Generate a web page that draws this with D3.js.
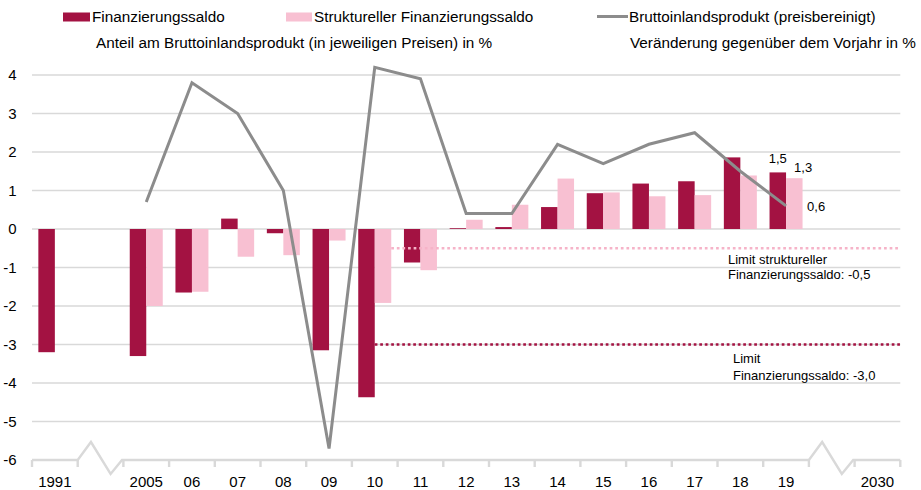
<!DOCTYPE html>
<html><head><meta charset="utf-8">
<script src="https://cdn.jsdelivr.net/npm/d3@7"></script>
<style>
html,body{margin:0;padding:0;background:#fff;}
svg{display:block;font-family:"Liberation Sans",Arial,sans-serif;}
</style></head>
<body><svg id="chart" width="921" height="490"></svg>
<script>
// ---- data ----
const categories = ["1991","b1","2005","2006","2007","2008","2009","2010","2011","2012","2013","2014","2015","2016","2017","2018","2019","b2","2030"];
const tickLabels = ["1991","","2005","06","07","08","09","10","11","12","13","14","15","16","17","18","19","","2030"];
const finanzierungssaldo = [-3.2,null,-3.3,-1.65,0.27,-0.11,-3.15,-4.37,-0.87,0.02,0.05,0.57,0.93,1.18,1.24,1.86,1.47,null,null];
const strukturellerSaldo = [null,null,-2.0,-1.63,-0.72,-0.68,-0.3,-1.92,-1.07,0.24,0.63,1.31,0.95,0.85,0.88,1.39,1.32,null,null];
const bip = [null,null,0.7,3.8,3.0,1.0,-5.7,4.2,3.9,0.4,0.4,2.2,1.7,2.2,2.5,1.5,0.6,null,null];
const yTicks = [-6,-5,-4,-3,-2,-1,0,1,2,3,4];
const breakSlots = ["b1","b2"];
const limitStrukturell = -0.5;
const limitSaldo = -3.0;
const legendLabels = ["Finanzierungssaldo","Struktureller Finanzierungssaldo","Bruttoinlandsprodukt (preisbereinigt)"];
const subtitleLeft = "Anteil am Bruttoinlandsprodukt (in jeweiligen Preisen) in %";
const subtitleRight = "Veränderung gegenüber dem Vorjahr in %";

// ---- style ----
const cDark = "#a31242", cPink = "#f8c0d2", cGrey = "#8c8c8c", cGrid = "#d9d9d9", cDotPink = "#f6b3c8";
const svg = d3.select("#chart");
const fmt = v => d3.format(".1f")(v).replace(".", ",").replace("\u2212", "-");

const x = d3.scaleBand().domain(categories).range([32, 900.3]).padding(0);
const xi = d3.scaleBand().domain(["saldo","struct"]).range([0, x.bandwidth()]).paddingInner(0).paddingOuter(0.385);
const y = d3.scaleLinear().domain([-6, 4]).range([460, 75]);
const sw = x.bandwidth();

// gridlines
svg.append("g").selectAll("line").data(yTicks.filter(t => t > -6)).join("line")
  .attr("x1", 32).attr("x2", 900.3).attr("y1", d => y(d)).attr("y2", d => y(d))
  .attr("stroke", cGrid).attr("stroke-width", 1.3);

// y labels
svg.append("g").selectAll("text").data(yTicks).join("text")
  .attr("x", 16.5).attr("y", d => y(d)).attr("dy", "0.36em")
  .attr("text-anchor", "end").attr("font-size", 15).attr("fill", "#000")
  .text(d => d);

// bars
const rows = categories.map((c, i) => ({c, s: finanzierungssaldo[i], p: strukturellerSaldo[i], g: bip[i], lab: tickLabels[i]}));
const bars = svg.append("g");
bars.selectAll("rect.s").data(rows.filter(d => d.s != null)).join("rect").attr("class","s")
  .attr("x", d => x(d.c) + xi("saldo")).attr("width", xi.bandwidth())
  .attr("y", d => y(Math.max(0, d.s))).attr("height", d => Math.abs(y(d.s) - y(0)))
  .attr("fill", cDark);
bars.selectAll("rect.p").data(rows.filter(d => d.p != null)).join("rect").attr("class","p")
  .attr("x", d => x(d.c) + xi("struct")).attr("width", xi.bandwidth())
  .attr("y", d => y(Math.max(0, d.p))).attr("height", d => Math.abs(y(d.p) - y(0)))
  .attr("fill", cPink);

// limit lines
svg.append("line").attr("x1", x("2010") + xi("struct") + xi.bandwidth()).attr("x2", 900.3)
  .attr("y1", y(limitStrukturell)).attr("y2", y(limitStrukturell))
  .attr("stroke", cDotPink).attr("stroke-width", 2.6).attr("stroke-dasharray", "2.7,2.9");
svg.append("line").attr("x1", x("2010") + xi("struct")).attr("x2", 900.3)
  .attr("y1", y(limitSaldo)).attr("y2", y(limitSaldo))
  .attr("stroke", cDark).attr("stroke-width", 2.6).attr("stroke-dasharray", "2.7,2.8");

// GDP line
const lineGen = d3.line().defined(d => d.g != null).x(d => x(d.c) + sw / 2).y(d => y(d.g));
svg.append("path").datum(rows).attr("d", lineGen)
  .attr("fill", "none").attr("stroke", cGrey).attr("stroke-width", 3).attr("stroke-linejoin", "miter");

// x axis with breaks
const axY = y(-6);
const ax = svg.append("g").attr("stroke", cGrid).attr("stroke-width", 2.4).attr("fill", "none");
let pts = [[32, axY]];
categories.forEach(c => {
  const x0 = x(c);
  if (breakSlots.includes(c)) {
    pts.push([x0, axY], [x0 + 0.29 * sw, axY - 18], [x0 + 0.72 * sw, axY + 14], [x0 + 0.97 * sw, axY]);
  }
});
pts.push([900.3, axY]);
ax.append("path").attr("d", d3.line()(pts));
const bounds = categories.map(c => x(c)).concat([900.3]);
ax.selectAll("line").data(bounds).join("line")
  .attr("x1", d => d).attr("x2", d => d).attr("y1", axY).attr("y2", axY + 7);

// x labels
svg.append("g").selectAll("text").data(rows.filter(d => d.lab)).join("text")
  .attr("x", d => x(d.c) + sw / 2).attr("y", 487).attr("text-anchor", "middle")
  .attr("font-size", 15).attr("fill", "#000").text(d => d.lab);

// data labels for last year
const last = rows[categories.indexOf("2019")];
svg.append("text").attr("x", x(last.c) + xi("saldo") + xi.bandwidth() / 2).attr("y", y(last.s) - 9)
  .attr("text-anchor", "middle").attr("font-size", 13).text(fmt(last.s));
svg.append("text").attr("x", x(last.c) + xi("struct") + 8).attr("y", y(last.p) - 6)
  .attr("font-size", 13).text(fmt(last.p));
svg.append("text").attr("x", x(last.c) + sw / 2 + 21).attr("y", y(last.g) + 5)
  .attr("font-size", 13).text(fmt(last.g));

// annotations
const ann = svg.append("g").attr("font-size", 13).attr("fill", "#000");
ann.append("text").attr("x", 728).attr("y", 264).text("Limit struktureller");
ann.append("text").attr("x", 728).attr("y", 279).text("Finanzierungssaldo: " + fmt(limitStrukturell));
ann.append("text").attr("x", 733).attr("y", 363).text("Limit");
ann.append("text").attr("x", 733).attr("y", 380).text("Finanzierungssaldo: " + fmt(limitSaldo));

// legend
const lg = svg.append("g").attr("font-size", 15.3).attr("fill", "#000");
lg.append("rect").attr("x", 63).attr("y", 12.5).attr("width", 27).attr("height", 9).attr("fill", cDark);
lg.append("text").attr("x", 92).attr("y", 22).text(legendLabels[0]);
lg.append("rect").attr("x", 286).attr("y", 12.5).attr("width", 26).attr("height", 9).attr("fill", cPink);
lg.append("text").attr("x", 314).attr("y", 22).text(legendLabels[1]);
lg.append("line").attr("x1", 597).attr("x2", 628).attr("y1", 16.5).attr("y2", 16.5).attr("stroke", cGrey).attr("stroke-width", 3);
lg.append("text").attr("x", 629).attr("y", 22).text(legendLabels[2]);
lg.append("text").attr("x", 96).attr("y", 48).text(subtitleLeft);
lg.append("text").attr("x", 630).attr("y", 48).text(subtitleRight);
</script></body></html>
